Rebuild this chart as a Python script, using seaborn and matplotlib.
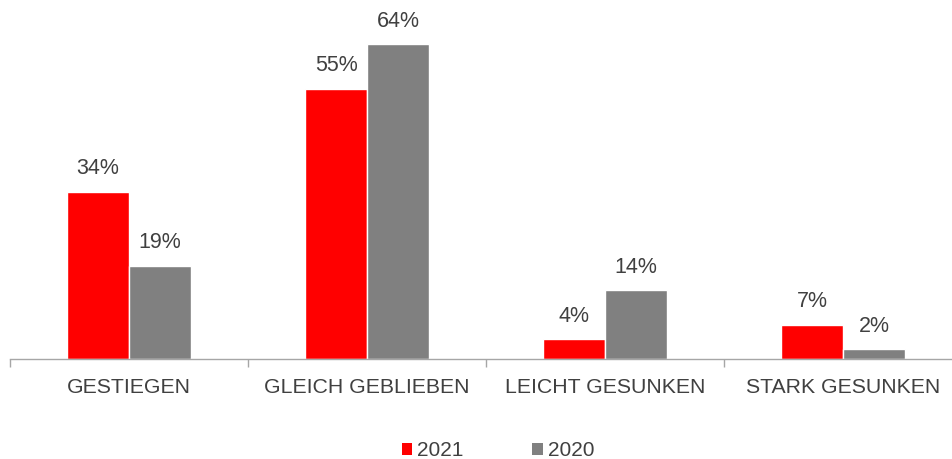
import matplotlib
matplotlib.use("Agg")
import matplotlib.pyplot as plt
import seaborn as sns
import pandas as pd

categories = ["GESTIEGEN", "GLEICH GEBLIEBEN", "LEICHT GESUNKEN", "STARK GESUNKEN"]
years = ["2021", "2020"]
values_2021 = [34, 55, 4, 7]
values_2020 = [19, 64, 14, 2]

df = pd.DataFrame({
    "Kategorie": categories * 2,
    "Jahr": ["2021"] * 4 + ["2020"] * 4,
    "Wert": values_2021 + values_2020,
})

sns.set_style("white")
plt.rcParams["font.family"] = ["Liberation Sans", "DejaVu Sans"]
TXT = "#404040"

fig = plt.figure(figsize=(9.52, 4.59), dpi=100)
ax = fig.add_axes([10 / 952, 100 / 459, 942 / 952, 359 / 459])

sns.barplot(data=df, x="Kategorie", y="Wert", hue="Jahr", hue_order=years,
            palette={"2021": "#ff0000", "2020": "#808080"}, saturation=1,
            width=0.52, edgecolor="white", linewidth=1, ax=ax)

for cont in ax.containers:
    ax.bar_label(cont, fmt="%d%%", padding=9, fontsize=15.5, color=TXT)

ax.set_xlim(-0.5, -0.5 + 942 / 238)
ax.set_ylim(0, 73)
ax.set_xlabel("")
ax.set_ylabel("")
ax.set_yticks([])

# Kategorie-Beschriftungen mittig, Teilstriche an den Grenzen
ax.set_xticks(range(len(categories)))
ax.set_xticklabels(categories, fontsize=15.3, color=TXT)
ax.tick_params(axis="x", which="major", length=0, pad=14)
ax.set_xticks([-0.5, 0.5, 1.5, 2.5], minor=True)
ax.tick_params(axis="x", which="minor", bottom=True, length=6, width=1,
               color="#a6a6a6", direction="out")

for side in ["top", "right", "left"]:
    ax.spines[side].set_visible(False)
ax.spines["bottom"].set_color("#a6a6a6")
ax.spines["bottom"].set_linewidth(1)

leg = ax.legend(loc="center", bbox_to_anchor=(0.518, -0.255), ncol=2, frameon=False,
                fontsize=15, handlelength=0.5, handleheight=0.5, handletextpad=0.25,
                columnspacing=3.3, labelcolor=TXT)
for h in leg.legend_handles:
    h.set_edgecolor("none")

fig.savefig("out.png", dpi=100)
